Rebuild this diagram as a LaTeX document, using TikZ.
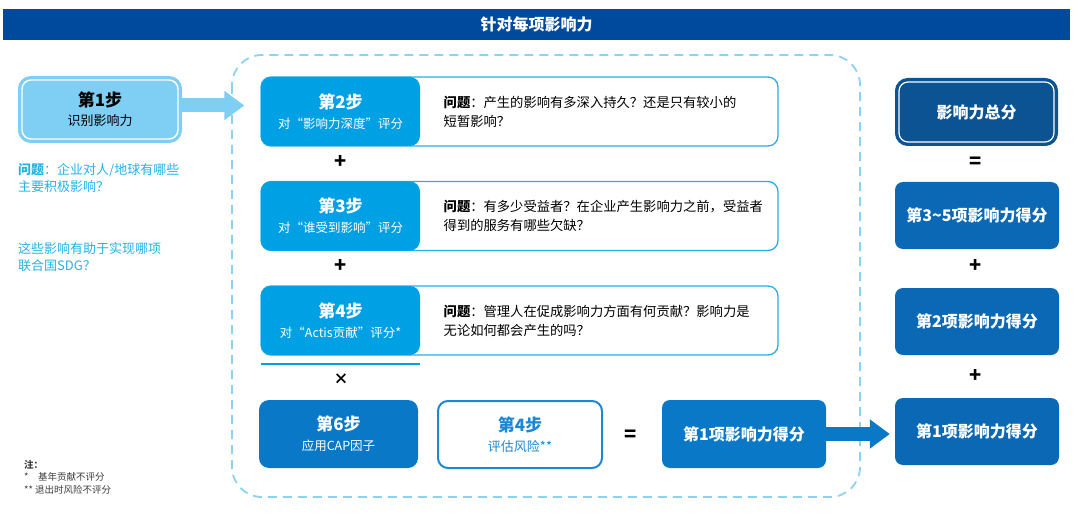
\documentclass[tikz,border=0pt]{standalone}
\usepackage{fontspec}
\setmainfont{Noto Sans CJK SC}
\usetikzlibrary{positioning,arrows.meta}
\definecolor{titleblue}{RGB}{0,74,157}
\definecolor{paleblue}{RGB}{127,206,243}
\definecolor{cyantext}{RGB}{36,178,230}
\definecolor{stepblue}{RGB}{0,161,228}
\definecolor{framblue}{RGB}{140,210,242}
\definecolor{midblue}{RGB}{9,121,199}
\definecolor{riskblue}{RGB}{28,136,212}
\definecolor{darkblue}{RGB}{12,83,148}
\definecolor{sumblue}{RGB}{10,104,180}
\definecolor{notegray}{RGB}{60,60,60}

\begin{document}
\begin{tikzpicture}
		[x=1pt,y=-1pt,
		title/.style ={fill=titleblue, text=white, font=\fontsize{16}{18}\selectfont\bfseries, minimum width=1067, minimum height=31, inner sep=0},
		first/.style ={fill=paleblue, draw=white, line width=1.4, preaction={draw=paleblue, line width=8}, rounded corners=9, minimum width=156, minimum height=59, align=center, font=\fontsize{13}{19}\selectfont},
		stepbox/.style ={fill=stepblue, text=white, rounded corners=10, minimum width=159, minimum height=69, align=center, font=\fontsize{12.5}{20}\selectfont},
		qbox/.style ={draw=stepblue!85, fill=white, line width=1.3, rounded corners=10, minimum width=517, minimum height=69},
		qtext/.style ={anchor=west, align=left, font=\fontsize{13.3}{19}\selectfont},
		side/.style ={anchor=north west, align=left, text=cyantext, inner sep=0, font=\fontsize{13}{17}\selectfont},
		riskbox/.style ={draw=riskblue, fill=white, text=riskblue, line width=2, rounded corners=10, minimum width=164, minimum height=67, align=center, font=\fontsize{13}{20}\selectfont},
		score/.style ={fill=midblue, text=white, rounded corners=8, minimum width=164, minimum height=68, font=\fontsize{16}{18}\selectfont\bfseries},
		total/.style ={fill=darkblue, draw=white, line width=1.2, preaction={draw=darkblue, line width=8}, text=white, rounded corners=9, minimum width=155, minimum height=60, font=\fontsize{16}{18}\selectfont\bfseries},
		sum/.style ={fill=sumblue, text=white, rounded corners=8, minimum width=164, minimum height=67, font=\fontsize{16}{18}\selectfont\bfseries},
		op/.style ={font=\fontsize{20}{20}\selectfont\bfseries, inner sep=0},
		fatarrow/.style ={line width=14, -{Triangle[length=20,width=28]}},
		frame/.style ={draw=framblue, line width=1.8, dash pattern=on 9 off 6, rounded corners=30}]
		\useasboundingbox (0,0) rectangle (1080,532);

		% header
		\draw (536.5,24.5) node[title] (head) {针对每项影响力};

		% step 1 and its questions
		\draw (100,109.5) node[first] (s1) {{\fontsize{17}{20}\selectfont\bfseries 第1步}\\识别影响力};
		\draw (18,163) node[side] (ask1) {{\bfseries 问题}：企业对人/地球有哪些\\主要积极影响？};
		\draw (18,242) node[side] (ask2) {这些影响有助于实现哪项\\联合国SDG？};

		% dashed group
		\draw[frame] (232,55) rectangle (860,497);

		% steps 2 to 4
		\draw (519.5,111.5) node[qbox] (q2) {};
		\draw (340.5,111.5) node[stepbox] (s2) {{\fontsize{17}{20}\selectfont\bfseries 第2步}\\对“影响力深度”评分};
		\node[qtext, right=20 of s2] (t2) {{\bfseries 问题}：产生的影响有多深入持久？还是只有较小的\\短暂影响？};
		\draw (341,162) node[op] (plus1) {+};

		\draw (519.5,216) node[qbox] (q3) {};
		\draw (340.5,216) node[stepbox] (s3) {{\fontsize{17}{20}\selectfont\bfseries 第3步}\\对“谁受到影响”评分};
		\node[qtext, right=20 of s3] (t3) {{\bfseries 问题}：有多少受益者？在企业产生影响力之前，受益者\\得到的服务有哪些欠缺？};
		\draw (341,266) node[op] (plus2) {+};

		\draw (519.5,320.5) node[qbox] (q4) {};
		\draw (340.5,320.5) node[stepbox] (s4) {{\fontsize{17}{20}\selectfont\bfseries 第4步}\\对“Actis贡献”评分*};
		\node[qtext, right=20 of s4] (t4) {{\bfseries 问题}：管理人在促成影响力方面有何贡献？影响力是\\无论如何都会产生的吗？};
		\draw[stepblue, line width=1.5] (261,364) -- (420,364);
		\draw (341,379) node[op, font=\fontsize{15}{15}\selectfont\bfseries] (times) {×};

		% bottom row
		\draw (338.5,434) node[stepbox, fill=midblue, minimum height=68] (s6) {{\fontsize{17}{20}\selectfont\bfseries 第6步}\\应用CAP因子};
		\draw (520,434.5) node[riskbox] (risk) {{\fontsize{17}{20}\selectfont\bfseries 第4步}\\评估风险**};
		\draw (631,436) node[op] (eq1) {=};
		\draw (744,434) node[score] (sc1) {第1项影响力得分};

		% right column
		\draw (976.5,112) node[total] (tot) {影响力总分};
		\draw (976,163) node[op] (eq2) {=};
		\draw (977,215.5) node[sum] (r35) {第3\textasciitilde5项影响力得分};
		\draw (976,266) node[op] (plus3) {+};
		\draw (977,321.5) node[sum] (r2) {第2项影响力得分};
		\draw (976,376) node[op] (plus4) {+};
		\draw (977,431.5) node[sum] (r1) {第1项影响力得分};

		% arrows
		\coordinate (a1) at ([yshift=4]s1.east);
		\draw[fatarrow, paleblue, shorten >=16] (a1) -- (a1 -| q2.west);
		\draw[fatarrow, midblue, shorten >=5] (sc1.east) -- (sc1.east -| r1.west);

		% notes
		\draw (24,460) node[anchor=north west, align=left, inner sep=0, text=notegray, font=\fontsize{9.5}{12.5}\selectfont] (notes) {{\bfseries 注：}\\*\quad 基年贡献不评分\\**\ 退出时风险不评分};
	\end{tikzpicture}
\end{document}
